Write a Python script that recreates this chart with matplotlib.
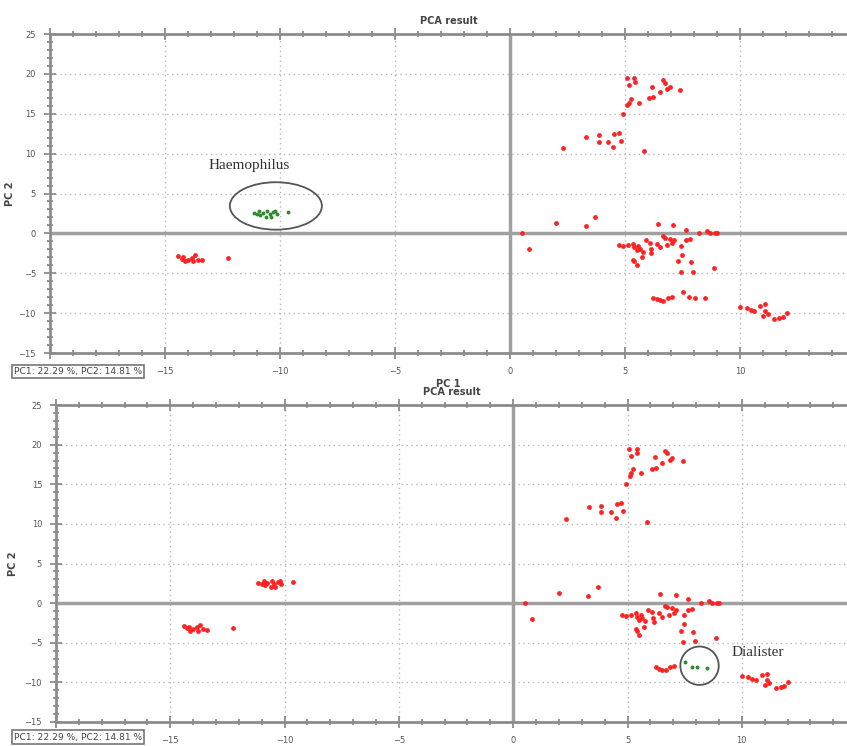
import matplotlib
matplotlib.use("Agg")
import matplotlib.pyplot as plt
from matplotlib.patches import Ellipse
from matplotlib.ticker import MultipleLocator

# PCA scores (PC1, PC2) for all samples
pc1 = [
    # left groups
    -14.42, -14.27, -14.2, -14.13, -13.99, -13.84, -13.77, -13.7, -13.55, -13.4, -12.25,
    -11.15, -11.0, -10.9, -10.85, -10.75, -10.6, -10.55, -10.45, -10.4, -10.3, -10.2, -10.15, -9.65,
    # upper right
    5.07, 5.4, 5.43, 5.17, 6.64, 6.74, 6.19, 6.52, 6.84, 6.96, 7.41, 5.26, 5.17, 5.1, 5.6,
    6.06, 6.23, 4.93, 3.32, 3.86, 3.86, 4.28, 4.52, 4.72, 4.81, 4.49, 2.32, 5.84,
    # middle
    2.01, 3.29, 3.71, 0.51, 0.84, 6.43, 7.1, 7.64, 8.23, 8.57, 8.7, 8.9, 9.0,
    4.75, 4.93, 5.14, 5.36, 5.57, 5.4, 5.9, 6.09, 6.64, 6.74, 6.96, 6.38, 6.52, 6.81,
    7.03, 7.13, 7.45, 7.64, 7.83, 5.65, 5.5, 5.77, 6.13, 6.14, 5.72, 5.36, 5.4, 5.5,
    7.46, 7.32, 7.86, 7.43, 7.96, 8.88,
    # lower
    6.23, 6.38, 6.52, 6.67, 6.86, 7.03, 7.5, 7.8, 8.04, 8.49,
    10.0, 10.29, 10.46, 10.6, 10.87, 11.1, 11.09, 11.0, 11.2, 11.49, 11.7, 11.86, 12.03,
]
pc2 = [
    -2.84, -3.16, -2.96, -3.5, -3.29, -3.04, -3.5, -2.75, -3.29, -3.38, -3.09,
    2.6, 2.45, 2.8, 2.3, 2.55, 2.1, 2.75, 2.4, 2.0, 2.65, 2.85, 2.45, 2.66,
    19.5, 19.5, 19.0, 18.6, 19.2, 18.9, 18.4, 17.7, 18.1, 18.3, 17.96, 16.9, 16.4, 16.1, 16.4,
    16.96, 17.04, 15.0, 12.1, 12.3, 11.5, 11.5, 12.46, 12.6, 11.6, 10.8, 10.67, 10.3,
    1.3, 0.87, 2.1, 0.0, -2.0, 1.17, 1.04, 0.46, 0.04, 0.25, 0.0, 0.08, 0.04,
    -1.5, -1.58, -1.5, -1.3, -1.54, -1.7, -0.87, -1.17, -0.33, -0.54, -0.67, -1.3, -1.7, -1.5,
    -1.2, -0.87, -1.54, -0.87, -0.75, -1.9, -2.1, -2.3, -1.9, -2.4, -2.96, -3.3, -3.5, -3.96,
    -2.67, -3.46, -3.6, -4.9, -4.8, -4.4,
    -8.04, -8.25, -8.4, -8.5, -8.1, -7.96, -7.4, -8.0, -8.1, -8.16,
    -9.25, -9.3, -9.6, -9.7, -9.1, -8.9, -9.7, -10.3, -10.1, -10.7, -10.6, -10.5, -10.0,
]
genus = (["other"] * 11 + ["Haemophilus"] * 13 + ["other"] * 28 + ["other"] * 47
         + ["other"] * 6 + ["Dialister"] * 4 + ["other"] * 13)

variance_text = "PC1: 22.29 %, PC2: 14.81 %"

RED = "#ff2222"
GREEN = "#2e8b2e"
GREY = "#8c8c8c"


def draw_panel(ax, highlight, ellipse, label, label_xy, xmax, ylabel_x):
    other_x = [x for x, g in zip(pc1, genus) if g != highlight]
    other_y = [y for y, g in zip(pc2, genus) if g != highlight]
    hi_x = [x for x, g in zip(pc1, genus) if g == highlight]
    hi_y = [y for y, g in zip(pc2, genus) if g == highlight]

    ax.set_xlim(-20, xmax)
    ax.set_ylim(-15, 25)
    ax.axhline(0, color="#a0a0a0", lw=2.5, zorder=1)
    ax.axvline(0, color="#a0a0a0", lw=2.5, zorder=1)
    ax.scatter(other_x, other_y, s=12, color=RED, lw=0, zorder=3)
    ax.scatter(hi_x, hi_y, s=8, color=GREEN, lw=0, zorder=4)

    ax.add_patch(Ellipse(ellipse[:2], ellipse[2], ellipse[3], fill=False,
                         edgecolor="#555555", lw=1.3, zorder=5))
    ax.text(label_xy[0], label_xy[1], label, family="Liberation Serif",
            fontsize=11, color="#333333", ha="left", va="center", zorder=5)

    ax.xaxis.set_major_locator(MultipleLocator(5))
    ax.xaxis.set_minor_locator(MultipleLocator(1))
    ax.yaxis.set_major_locator(MultipleLocator(5))
    ax.yaxis.set_minor_locator(MultipleLocator(1))
    ax.grid(True, which="major", color="#b8b8b8", ls=(0, (1, 2.5)), lw=1)
    ax.set_axisbelow(True)
    ax.tick_params(which="both", direction="inout", color=GREY, width=1.3,
                   top=True, labelsize=6, labelcolor="#555555")
    ax.tick_params(which="major", length=8, pad=6)
    ax.tick_params(which="minor", length=5)
    for side in ["left", "bottom", "top"]:
        ax.spines[side].set_color(GREY)
        ax.spines[side].set_linewidth(2)
    ax.spines["right"].set_visible(False)
    ax.set_xlabel("PC 1", fontsize=7, fontweight="bold", color="#444444", labelpad=2)
    ax.set_ylabel("PC 2", fontsize=7, fontweight="bold", color="#444444")
    ax.yaxis.set_label_coords(ylabel_x, 0.5)
    ax.set_title("PCA result", fontsize=7, fontweight="bold", color="#444444", pad=7)


fig = plt.figure(figsize=(8.47, 7.46), dpi=100)

ax1 = fig.add_axes([0.059, 0.5268, 0.941, 0.4276])
draw_panel(ax1, "Haemophilus", (-10.18, 3.44, 4.0, 5.95), "Haemophilus", (-13.1, 8.5),
           14.65, -0.044)

ax2 = fig.add_axes([0.0661, 0.0322, 0.9339, 0.4248])
draw_panel(ax2, "Dialister", (8.15, -7.9, 1.68, 4.85), "Dialister", (9.57, -6.25),
           14.6, -0.048)

for y in [0.4985, 0.0085]:
    fig.text(0.0165, y, variance_text, fontsize=6.6, color="#444444",
             bbox=dict(boxstyle="square,pad=0.25", fc="white", ec="#777777", lw=1.2))

fig.savefig("out.png", dpi=100)
